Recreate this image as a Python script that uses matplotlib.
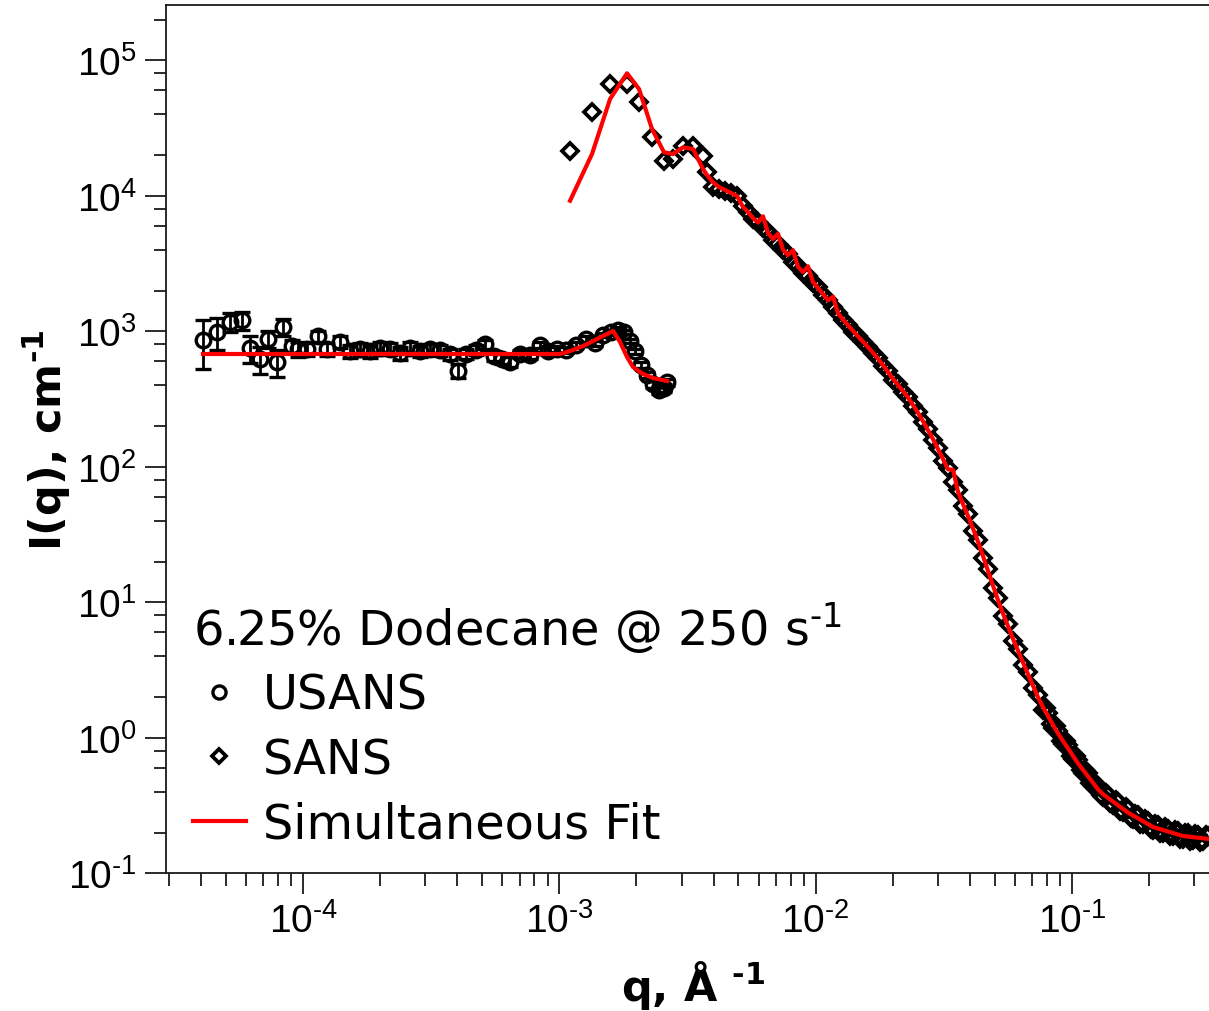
import math

import matplotlib
matplotlib.use("Agg")
import matplotlib.pyplot as plt
from matplotlib.lines import Line2D
from matplotlib.ticker import FixedLocator, LogLocator, FuncFormatter, NullFormatter

# USANS data (q in 1/A, I in 1/cm, error in 1/cm)
usans_q = [4.07e-5, 4.62e-5, 5.19e-5, 5.78e-5, 6.21e-5, 6.80e-5, 7.30e-5, 7.92e-5,
           8.36e-5, 9.06e-5, 9.56e-5, 1.04e-4, 1.14e-4, 1.24e-4, 1.39e-4, 1.53e-4,
           1.67e-4, 1.83e-4, 2.00e-4, 2.19e-4, 2.39e-4, 2.62e-4, 2.86e-4, 3.13e-4,
           3.42e-4, 3.75e-4, 4.03e-4, 4.33e-4, 4.73e-4, 5.13e-4, 5.56e-4, 5.98e-4,
           6.42e-4, 7.03e-4, 7.69e-4, 8.41e-4, 9.03e-4, 9.80e-4, 1.06e-3, 1.16e-3,
           1.27e-3, 1.38e-3, 1.48e-3, 1.59e-3, 1.69e-3, 1.79e-3, 1.89e-3, 1.97e-3,
           2.08e-3, 2.20e-3, 2.32e-3, 2.45e-3, 2.56e-3, 2.63e-3]
usans_i = [863, 988, 1171, 1212, 753, 625, 877, 594,
           1076, 779, 740, 740, 923, 740, 834, 715,
           740, 715, 753, 740, 692, 753, 715, 740,
           728, 680, 509, 680, 728, 806, 657, 625,
           594, 680, 669, 792, 715, 740, 728, 792,
           877, 820, 939, 988, 1022, 988, 848, 715,
           564, 476, 408, 369, 382, 423]
usans_err = [340, 260, 190, 185, 170, 140, 125, 137,
             155, 90, 90, 85, 90, 85, 85, 80,
             80, 80, 80, 75, 75, 75, 70, 70,
             70, 65, 60, 60, 60, 60, 55, 50,
             50, 50, 45, 45, 45, 40, 40, 40,
             40, 35, 35, 35, 35, 35, 30, 30,
             30, 25, 25, 25, 25, 25]

# SANS data
sans_q = [1.101e-3, 1.341e-3, 1.577e-3, 1.837e-3, 2.046e-3, 2.299e-3, 2.561e-3, 2.777e-3,
          3.038e-3, 3.323e-3, 3.636e-3, 3.769e-3, 3.977e-3, 4.197e-3, 4.430e-3, 4.675e-3,
          4.934e-3, 5.207e-3, 5.446e-3, 5.696e-3, 5.958e-3, 6.232e-3, 6.518e-3, 6.818e-3,
          7.131e-3, 7.459e-3, 7.801e-3, 8.160e-3, 8.535e-3, 8.927e-3, 9.338e-3, 9.767e-3,
          1.022e-2, 1.069e-2, 1.118e-2, 1.169e-2, 1.223e-2, 1.279e-2, 1.338e-2, 1.399e-2,
          1.463e-2, 1.531e-2, 1.601e-2, 1.675e-2, 1.752e-2, 1.832e-2, 1.916e-2, 2.004e-2,
          2.096e-2, 2.193e-2, 2.293e-2, 2.399e-2, 2.509e-2, 2.624e-2, 2.745e-2, 2.871e-2,
          3.003e-2, 3.141e-2, 3.285e-2, 3.436e-2, 3.594e-2, 3.759e-2, 3.932e-2, 4.113e-2,
          4.302e-2, 4.499e-2, 4.706e-2, 4.922e-2, 5.148e-2, 5.385e-2, 5.632e-2, 5.891e-2,
          6.162e-2, 6.445e-2, 6.741e-2, 7.051e-2, 7.375e-2, 7.714e-2, 8.068e-2, 8.439e-2,
          8.827e-2, 9.232e-2, 9.657e-2, 0.1010, 0.1056, 0.1104, 0.1155, 0.1208,
          0.1264, 0.1322, 0.1382, 0.1446, 0.1512, 0.1582, 0.1654, 0.1730,
          0.1810, 0.1893, 0.1980, 0.2071, 0.2166, 0.2265, 0.2369, 0.2478,
          0.2592, 0.2711, 0.2836, 0.2966, 0.3102, 0.3245, 0.3394]
sans_i = [21410, 41540, 66880, 66880, 49230, 27160, 18060, 18690,
          23310, 23310, 19670, 14980, 11610, 11230, 10850, 10490,
          9966, 8407, 7650, 6800, 6420, 5800, 5380, 4750,
          4420, 3960, 3690, 3270, 3030, 2700, 2540, 2290,
          2110, 1860, 1715, 1500, 1372, 1208, 1122, 995,
          928, 829, 772, 686, 636, 556, 507, 440,
          406, 357, 330, 281, 254, 213, 190, 157,
          138, 111, 98, 77, 67, 51.5, 44.5, 33.8,
          28.9, 21.2, 17.6, 12.8, 10.8, 7.95, 6.9, 5.15,
          4.55, 3.45, 3.05, 2.32, 2.07, 1.60, 1.52, 1.18,
          1.13, 0.90, 0.88, 0.70, 0.68, 0.55, 0.55, 0.44,
          0.44, 0.365, 0.38, 0.32, 0.335, 0.283, 0.296, 0.253,
          0.268, 0.230, 0.243, 0.208, 0.226, 0.198, 0.214, 0.188,
          0.204, 0.179, 0.197, 0.175, 0.193, 0.172, 0.189]
# extra SANS points in the dense high-q tail
sans_tail_q = [7.889e-2, 8.251e-2, 8.631e-2, 9.027e-2, 9.442e-2, 9.876e-2, 0.1033, 0.1080,
               0.1129, 0.1181, 0.1235, 0.1293, 0.1352, 0.1413, 0.1479, 0.1546,
               0.1618, 0.1692, 0.1769, 0.1851, 0.1936, 0.2025, 0.2118, 0.2215,
               0.2316, 0.2423, 0.2534, 0.2651, 0.2773, 0.2900, 0.3033, 0.3172, 0.3319]
sans_tail_i = [1.65, 1.26, 1.23, 0.95, 0.94, 0.735, 0.73, 0.576,
               0.58, 0.462, 0.466, 0.376, 0.394, 0.328, 0.347, 0.289,
               0.307, 0.257, 0.276, 0.233, 0.251, 0.212, 0.230, 0.199,
               0.218, 0.189, 0.207, 0.179, 0.199, 0.174, 0.195, 0.171, 0.191]

# Simultaneous fit (USANS part and SANS part, SANS part on sans_q)
fit_usans_q = [4.07e-5, 1.006e-3, 1.101e-3, 1.238e-3, 1.403e-3, 1.535e-3, 1.621e-3,
               1.725e-3, 1.837e-3, 1.939e-3, 2.121e-3, 2.320e-3, 2.63e-3]
fit_usans_i = [680, 680, 715, 779, 877, 955, 1005,
               834, 646, 545, 484, 452, 430]
fit_sans_i = [9200, 20340, 51800, 80200, 61400, 31120, 20940, 20340,
              22800, 22150, 15770, 14240, 12580, 11610, 11040, 10490,
              9966, 8265, 7594, 6859, 6353, 7060, 5316, 4801,
              5250, 4001, 3651, 3970, 2998, 2734, 3020, 2311,
              2083, 1881, 1694, 1800, 1356, 1222, 1109, 1005,
              917, 838, 763, 693, 628, 562, 500, 445,
              401, 362, 325, 285, 250, 217, 186, 160,
              135, 114, 95.8, 95, 65.2, 53.0, 43.2, 34.9,
              27.96, 21.96, 17.02, 13.26, 10.36, 8.25, 6.65, 5.36,
              4.39, 3.59, 2.94, 2.42, 1.987, 1.680, 1.446, 1.243,
              1.076, 0.947, 0.834, 0.734, 0.648, 0.580, 0.520, 0.465,
              0.416, 0.3836, 0.3601, 0.3383, 0.3176, 0.2981, 0.2805, 0.2671,
              0.2546, 0.2424, 0.2307, 0.2196, 0.2141, 0.2087, 0.2034, 0.1983,
              0.1933, 0.1884, 0.1866, 0.1847, 0.1831, 0.1813, 0.1794]

x_decades = [1e-4, 1e-3, 1e-2, 1e-1]
y_decades = [1e-1, 1e0, 1e1, 1e2, 1e3, 1e4, 1e5]

HY = "\u2010"  # short hyphen, as in the original labels
legend_title = r"6.25% Dodecane @ 250 s$^{\mathregular{" + HY + "1}}$"
legend_labels = ["USANS", "SANS", "Simultaneous Fit"]

TICK_FONT = ["Liberation Sans", "DejaVu Sans"]
INK = "#1a1a1a"

fig = plt.figure(figsize=(12.09, 10.12), dpi=100)
ax = fig.add_axes([166 / 1209, 1 - 874.3 / 1012, 1 - 166 / 1209, (874.3 - 6) / 1012])

circ = dict(ms=10.5, mfc="none", mec="black", mew=2.4)
diam = dict(ms=8.3, mfc="none", mec="black", mew=2.7)

ax.errorbar(usans_q, usans_i, yerr=usans_err, fmt="o", ecolor="black", elinewidth=2,
            capsize=6, capthick=2.2, zorder=2, **circ)
ax.plot(sans_q, sans_i, "D", zorder=2, **diam)
ax.plot(sans_tail_q, sans_tail_i, "D", zorder=2, **diam)
ax.plot(fit_usans_q, fit_usans_i, color="red", lw=3, zorder=3)
ax.plot(sans_q, fit_sans_i, color="red", lw=3, zorder=3)

ax.set_xscale("log")
ax.set_yscale("log")
ax.set_xlim(2.92e-5, 0.3425)
ax.set_ylim(0.1, 2.56e5)


def pow_label(v, pos):
    e = round(math.log10(v))
    s = str(e).replace("-", HY)
    return r"$\mathregular{10^{" + s + "}}$"


ax.xaxis.set_major_locator(FixedLocator(x_decades))
ax.yaxis.set_major_locator(FixedLocator(y_decades))
ax.xaxis.set_major_formatter(FuncFormatter(pow_label))
ax.yaxis.set_major_formatter(FuncFormatter(pow_label))
ax.xaxis.set_minor_locator(LogLocator(base=10, subs=range(2, 10), numticks=20))
ax.yaxis.set_minor_locator(LogLocator(base=10, subs=(2, 4, 6, 8), numticks=20))
ax.xaxis.set_minor_formatter(NullFormatter())
ax.yaxis.set_minor_formatter(NullFormatter())

ax.tick_params(which="both", direction="out", color=INK, width=1.3,
               top=False, right=False)
ax.tick_params(which="major", length=15, labelsize=28, pad=6,
               labelfontfamily=TICK_FONT, labelcolor="black")
ax.tick_params(which="minor", length=9)

for side in ("left", "bottom", "top"):
    ax.spines[side].set_color(INK)
    ax.spines[side].set_linewidth(1.3)
ax.spines["right"].set_visible(False)

ax.set_xlabel(r"q, Å $^{\mathregular{" + HY + "1}}$", fontsize=31, fontweight="bold")
ax.set_ylabel(r"I(q), cm$^{\mathregular{" + HY + "1}}$", fontsize=31, fontweight="bold")
ax.xaxis.set_label_coords(0.505, -0.098)
ax.yaxis.set_label_coords(-0.089, 0.5)

handles = [
    Line2D([], [], ls="none", marker="o", **circ),
    Line2D([], [], ls="none", marker="D", **diam),
    Line2D([], [], color="red", lw=3),
]
leg = ax.legend(handles, legend_labels, title=legend_title, loc="upper left",
                bbox_to_anchor=(193 / 1209, 1 - 600 / 1012), bbox_transform=fig.transFigure,
                frameon=False, borderpad=0, borderaxespad=0, handlelength=1.1,
                handletextpad=0.36, labelspacing=0.36, alignment="left",
                prop={"size": 34.5}, title_fontsize=34.5, markerscale=0.9)

fig.savefig("out.png", dpi=100)
